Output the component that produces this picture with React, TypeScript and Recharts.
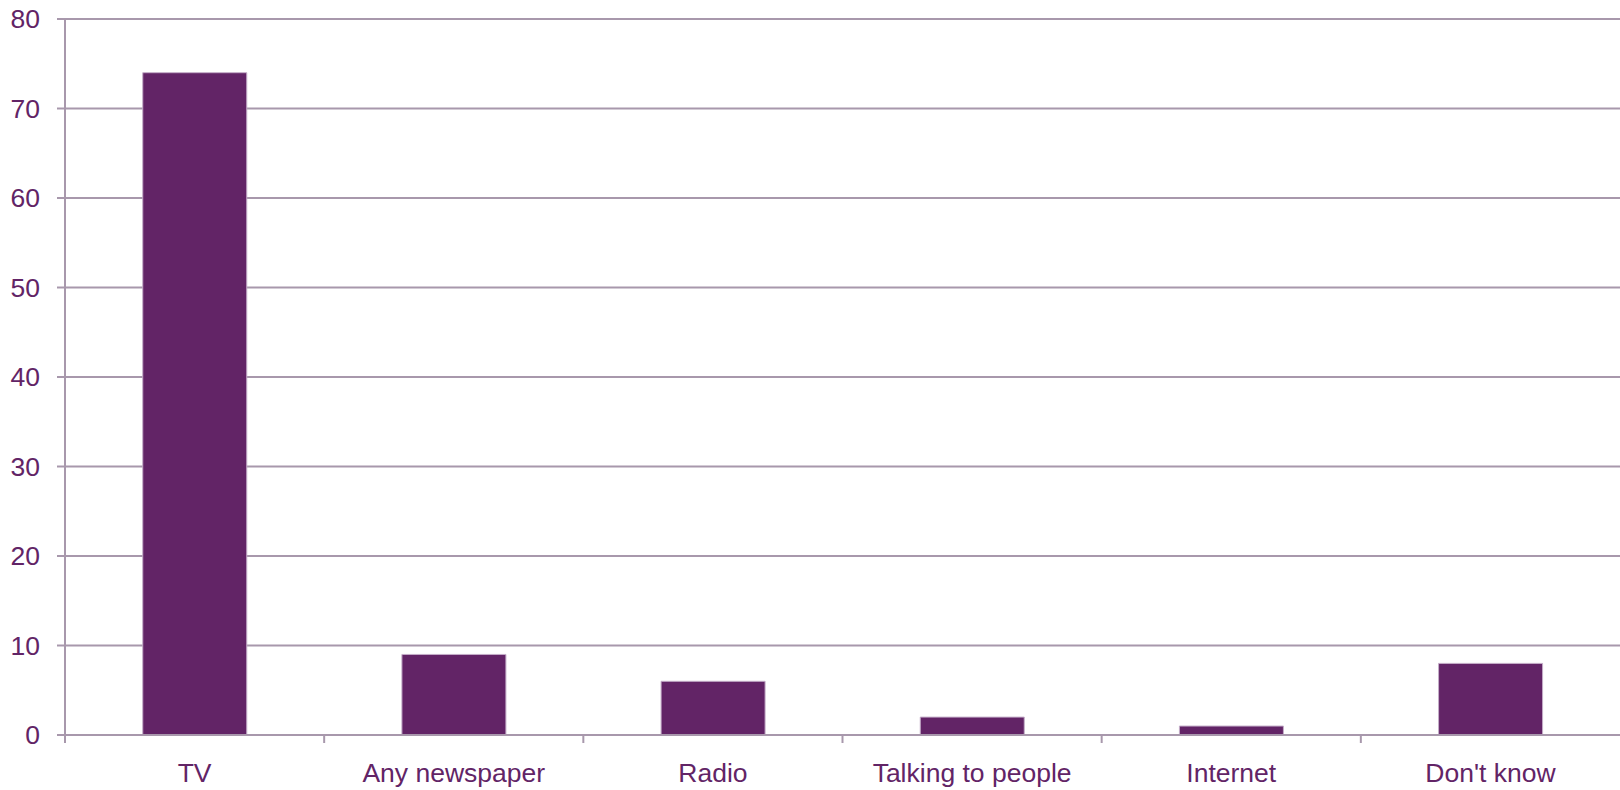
import { BarChart, Bar, XAxis, YAxis, CartesianGrid } from "recharts"

const categories = ["TV", "Any newspaper", "Radio", "Talking to people", "Internet", "Don't know"]
const shares = [74, 9, 6, 2, 1, 8]
const yTicks = [0, 10, 20, 30, 40, 50, 60, 70, 80]

const data = categories.map((name, i) => ({ name, value: shares[i] }))

const PURPLE = "#622466"
const GRID = "#a898ac"
const FONT = "'Liberation Sans', Arial, sans-serif"

// Excel-style x ticks: marks sit between the categories, labels in the middle
function CategoryTick(props: any) {
  const { x, y, payload, width } = props
  const half = payload?.offset ?? width / categories.length / 2
  return (
    <g>
      <line x1={x - half} x2={x - half} y1={y - 28} y2={y - 20} stroke={GRID} strokeWidth={2} />
      <text
        x={x}
        y={y}
        dy="0.71em"
        textAnchor="middle"
        fill={PURPLE}
        fontSize={26.5}
        fontFamily={FONT}
      >
        {payload.value}
      </text>
    </g>
  )
}

export default function App() {
  return (
    <div style={{ position: "absolute", left: 0, top: 0, width: 1620, height: 790, background: "#fff" }}>

      <BarChart
        width={1620}
        height={790}
        data={data}
        margin={{ top: 19, right: 0, bottom: 25, left: 0 }}
        barCategoryGap="30%"
      >

        <CartesianGrid vertical={false} stroke={GRID} strokeWidth={2} />

        <XAxis
          dataKey="name"
          height={30}
          axisLine={{ stroke: GRID, strokeWidth: 2 }}
          tickLine={false}
          tickSize={8}
          tickMargin={20}
          tick={<CategoryTick />}
          interval={0}
        />

        <YAxis
          width={65}
          domain={[0, 80]}
          ticks={yTicks}
          interval={0}
          axisLine={{ stroke: GRID, strokeWidth: 2 }}
          tickLine={{ stroke: GRID, strokeWidth: 2 }}
          tickSize={8}
          tickMargin={17}
          tick={{ fill: PURPLE, fontSize: 26.5, fontFamily: FONT }}
        />

        <Bar dataKey="value" fill={PURPLE} stroke="#c4adc8" strokeWidth={1} isAnimationActive={false} />

      </BarChart>

    </div>
  )
}
